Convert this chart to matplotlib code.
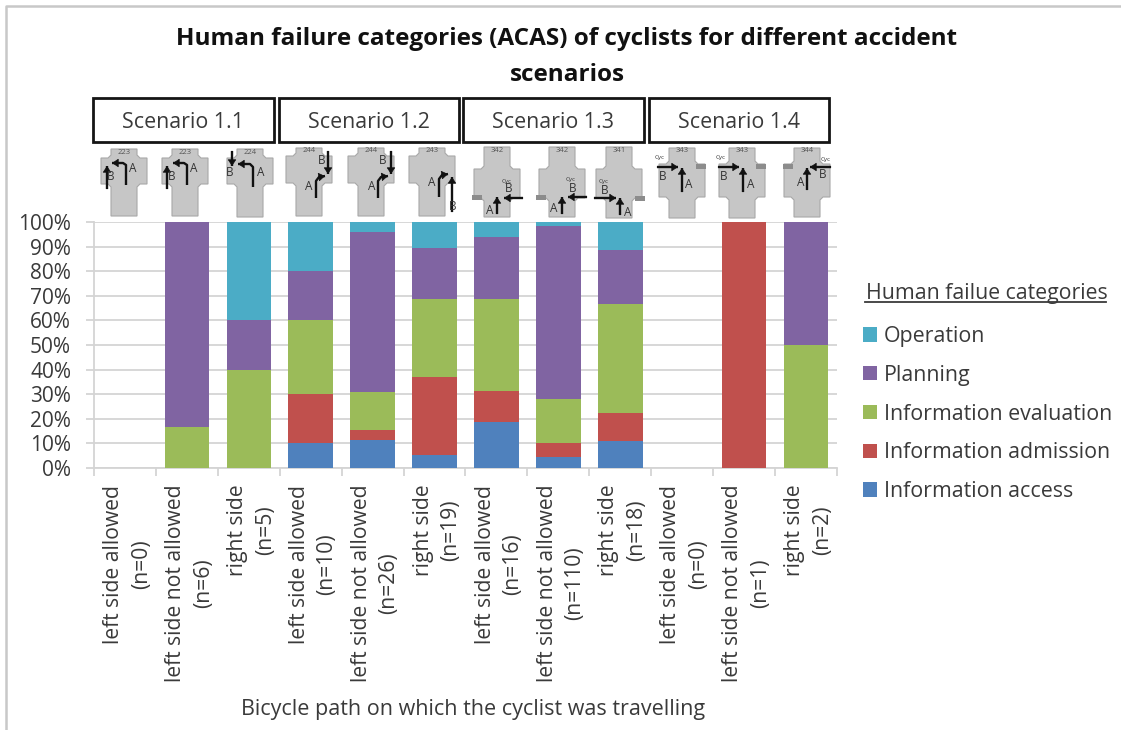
import numpy as np
import matplotlib
matplotlib.use('Agg')
import matplotlib.pyplot as plt
from matplotlib.patches import Polygon, Rectangle
from matplotlib.transforms import ScaledTranslation

plt.rcParams['font.family'] = ['Open Sans', 'DejaVu Sans']

W, H = 1121, 730
TXT = '#3a3a3a'

categories = [
    'left side allowed\n(n=0)', 'left side not allowed\n(n=6)', 'right side\n(n=5)',
    'left side allowed\n(n=10)', 'left side not allowed\n(n=26)', 'right side\n(n=19)',
    'left side allowed\n(n=16)', 'left side not allowed\n(n=110)', 'right side\n(n=18)',
    'left side allowed\n(n=0)', 'left side not allowed\n(n=1)', 'right side\n(n=2)',
]
info_access = [0, 0, 0, 10, 11.5, 5.3, 18.75, 4.5, 11.1, 0, 0, 0]
info_admission = [0, 0, 0, 20, 3.8, 31.6, 12.5, 5.5, 11.1, 0, 100, 0]
info_evaluation = [0, 16.7, 40, 30, 15.4, 31.6, 37.5, 18.2, 44.4, 0, 0, 50]
planning = [0, 83.3, 20, 20, 65.4, 21.1, 25, 70, 22.2, 0, 0, 50]
operation = [0, 0, 40, 20, 3.9, 10.4, 6.25, 1.8, 11.2, 0, 0, 0]

series_names = ['Information access', 'Information admission',
                'Information evaluation', 'Planning', 'Operation']
series_values = [info_access, info_admission, info_evaluation, planning, operation]
series_colors = ['#4F81BD', '#C0504D', '#9BBB59', '#8064A2', '#4BACC6']

scenario_names = ['Scenario 1.1', 'Scenario 1.2', 'Scenario 1.3', 'Scenario 1.4']
scenario_boxes = [(93, 274), (279, 459), (463, 644), (649, 829)]

# sketches above the bars: cx, top, arm top, arm bottom, bottom, road number
sketches = [
    (124, 149, 158, 184, 216, '223'), (185, 149, 158, 184, 216, '223'),
    (250, 149, 158, 184, 217, '224'), (309, 148, 156, 183, 216, '244'),
    (371, 148, 156, 183, 216, '244'), (432, 148, 156, 183, 216, '243'),
    (497, 147, 169, 198, 217, '342'), (562, 147, 169, 198, 217, '342'),
    (619, 147, 169, 198, 218, '341'), (682, 148, 164, 197, 218, '343'),
    (742, 148, 164, 197, 218, '343'), (807, 148, 164, 197, 217, '344'),
]
sketch_arrows = [
    [[(126, 185), (126, 165), (123, 163), (112, 163)], [(107, 189), (107, 166)]],
    [[(187, 185), (187, 165), (184, 163), (173, 163)], [(167, 189), (167, 166)]],
    [[(253, 187), (253, 167), (250, 164), (238, 164)], [(232, 151), (232, 166)]],
    [[(316, 198), (316, 181), (319, 177), (325, 176)], [(328, 151), (328, 174)]],
    [[(378, 198), (378, 181), (381, 177), (388, 176)], [(391, 151), (391, 174)]],
    [[(439, 197), (439, 179), (442, 175), (448, 174)], [(452, 212), (452, 177)]],
    [[(497, 214), (497, 197)], [(523, 198), (504, 198)]],
    [[(562, 214), (562, 197)], [(587, 197), (568, 197)]],
    [[(620, 215), (620, 198)], [(594, 198), (616, 198)]],
    [[(682, 192), (682, 168)], [(657, 167), (678, 167)]],
    [[(743, 192), (743, 168)], [(718, 167), (739, 167)]],
    [[(807, 190), (807, 168)], [(831, 167), (810, 167)]],
]
sketch_a = [(133, 169), (194, 169), (261, 173), (309, 187), (372, 187), (432, 183),
            (490, 210), (554, 209), (628, 212), (689, 185), (751, 185), (801, 183)]
sketch_b = [(111, 177), (172, 177), (230, 173), (322, 161), (383, 161), (453, 207),
            (509, 189), (573, 188), (605, 191), (663, 176), (724, 176), (823, 175)]
sketch_cyc = [None, None, None, None, None, None,
              (507, 181), (571, 179), (604, 182), (660, 158), (721, 158), (826, 159)]
sketch_curb = [None, None, None, None, None, None,
               (472, 195), (536, 195), (635, 196), (696, 164), (756, 164), (783, 164)]


def cross(cx, top, y1, y2, bot, hs=13, ha=23, c=3):
    return [(cx-hs, top), (cx+hs, top), (cx+hs, y1-c), (cx+hs+c, y1), (cx+ha, y1),
            (cx+ha, y2), (cx+hs+c, y2), (cx+hs, y2+c), (cx+hs, bot), (cx-hs, bot),
            (cx-hs, y2+c), (cx-hs-c, y2), (cx-ha, y2), (cx-ha, y1), (cx-hs-c, y1),
            (cx-hs, y1-c)]


def draw_sketch(ov, i):
    cx, top, y1, y2, bot, road = sketches[i]
    ov.add_patch(Polygon(cross(cx, top, y1, y2, bot), closed=True, fc='#c6c6c6',
                         ec='#a8a8a8', lw=0.8))
    ov.text(cx, top+3, road, fontsize=5.5, color='#555555', ha='center', va='center')
    if sketch_curb[i] is not None:
        ov.add_patch(Rectangle(sketch_curb[i], 10, 5, fc='#8c8c8c', ec='none'))
    for path in sketch_arrows[i]:
        xs = [p[0] for p in path]
        ys = [p[1] for p in path]
        ov.plot(xs, ys, color='#111111', lw=1.7, solid_capstyle='butt')
        ov.annotate('', xy=path[-1], xytext=path[-2],
                    arrowprops=dict(arrowstyle='-|>,head_length=0.45,head_width=0.3',
                                    fc='#111111', ec='#111111', lw=0.5,
                                    mutation_scale=9, shrinkA=0, shrinkB=0))
    ov.text(*sketch_a[i], 'A', fontsize=8.5, color='#333333', ha='center', va='center')
    ov.text(*sketch_b[i], 'B', fontsize=8.5, color='#333333', ha='center', va='center')
    if sketch_cyc[i] is not None:
        ov.text(*sketch_cyc[i], 'Cyc', fontsize=4.5, color='#333333', ha='center', va='center')


fig = plt.figure(figsize=(W/100, H/100), dpi=100)
ax = fig.add_axes([94/W, 1-468/H, (837-94)/W, (468-222)/H])

x = np.arange(len(categories))
bottom = np.zeros(len(categories))
bars = []
for name, vals, col in zip(series_names, series_values, series_colors):
    bars.append(ax.bar(x, vals, 0.72, bottom=bottom, color=col, label=name, zorder=3))
    bottom += np.array(vals)

ax.set_xlim(-0.5, len(categories)-0.5)
ax.set_ylim(0, 100)
ax.set_yticks(np.arange(0, 101, 10))
ax.set_yticklabels([f'{v}%' for v in range(0, 101, 10)], fontsize=15, color=TXT)
ax.tick_params(axis='y', length=6, width=1.3, color='#d4d4d4', pad=10.5)
ax.yaxis.grid(True, color='#d4d4d4', lw=1.3, zorder=0)
ax.set_axisbelow(True)

ax.set_xticks(x)
ax.set_xticklabels(categories, rotation=90, fontsize=15.2, color=TXT, ha='center',
                   va='top', multialignment='center', linespacing=1.42)
ax.set_xticks(np.arange(-0.5, len(categories)), minor=True)
ax.tick_params(axis='x', which='major', length=0, pad=12)
ax.tick_params(axis='x', which='minor', length=6, width=1.3, color='#d4d4d4')
shift = ScaledTranslation(2.5/100, 0, fig.dpi_scale_trans)
for lab in ax.get_xticklabels():
    lab.set_transform(lab.get_transform() + shift)

for s in ['top', 'right']:
    ax.spines[s].set_visible(False)
for s in ['left', 'bottom']:
    ax.spines[s].set_color('#d4d4d4')
    ax.spines[s].set_linewidth(1.3)

ax.legend(bars[::-1], series_names[::-1], loc='upper left',
          bbox_to_anchor=(863/W, 1-326/H), bbox_transform=fig.transFigure,
          frameon=False, fontsize=15.4, labelcolor=TXT, handlelength=0.66,
          handleheight=0.66, handletextpad=0.3, labelspacing=0.83,
          borderpad=0, borderaxespad=0)

# overlay in pixel coordinates for the decoration round the chart
ov = fig.add_axes([0, 0, 1, 1], zorder=5)
ov.set_xlim(0, W)
ov.set_ylim(H, 0)
ov.axis('off')
ov.plot([6, 6, W], [H, 6, 6], color='#c8c8c8', lw=1.8)

ov.text(567, 39, 'Human failure categories (ACAS) of cyclists for different accident',
        fontsize=17.5, fontweight='bold', color='#111111', ha='center', va='center')
ov.text(567, 75, 'scenarios', fontsize=17.5, fontweight='bold', color='#111111',
        ha='center', va='center')

for name, (x0, x1) in zip(scenario_names, scenario_boxes):
    ov.add_patch(Rectangle((x0, 98), x1-x0, 44, fc='white', ec='#151515', lw=2))
    ov.text((x0+x1)/2, 122, name, fontsize=15.4, color=TXT, ha='center', va='center')

for i in range(len(sketches)):
    draw_sketch(ov, i)

ov.text(473, 709, 'Bicycle path on which the cyclist was travelling', fontsize=15.5,
        color=TXT, ha='center', va='center')
ov.text(866, 294, 'Human failue categories', fontsize=15.3, color=TXT, ha='left', va='center')
ov.plot([865, 1106], [302, 302], color=TXT, lw=1.3)

fig.savefig('out.png', dpi=100)
